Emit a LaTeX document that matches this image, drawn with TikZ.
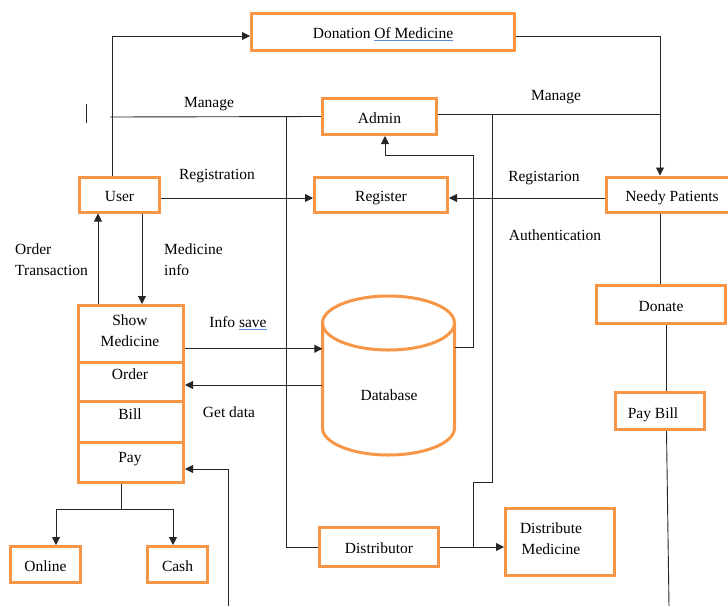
\documentclass[tikz,border=0pt]{standalone}
\usepackage{fontspec}
\setmainfont{Liberation Serif}
\usetikzlibrary{arrows.meta}
\definecolor{boxorange}{HTML}{F79646}
\definecolor{ulblue}{HTML}{5B8BD6}
\newcommand\spellul[1]{{\color{ulblue}\underline{\color{black}#1}}}
\begin{document}
\begin{tikzpicture}[x=1pt,y=-1pt,
  box/.style={draw=boxorange,line width=3pt,inner sep=0pt,font=\fontsize{15.5}{21}\selectfont,align=center,text height=13pt,text depth=0pt},
  txt/.style={inner sep=0pt,font=\fontsize{15.5}{21}\selectfont,text height=12.5pt,text depth=0pt},
  mtxt/.style={inner sep=0pt,font=\fontsize{15.5}{21}\selectfont},
  ln/.style={draw=black!85,line width=0.9pt},
  arr/.style={ln,-{Triangle[length=8pt,width=8pt]}}]
\useasboundingbox (0,0) rectangle (728,606);

% boxes
\node[box,minimum width=263pt,minimum height=37pt] (don) at (383,32) {Donation \spellul{Of Medicine}};
\node[box,minimum width=114pt,minimum height=36pt] (admin) at (379.5,116.5) {Admin};
\node[box,minimum width=133pt,minimum height=35pt] (reg) at (381,194.5) {Register};
\node[box,minimum width=80pt,minimum height=35pt] (user) at (119.5,194.5) {User};
\node[box,minimum width=131pt,minimum height=35pt] (needy) at (672,194.5) {Needy Patients};
\node[box,minimum width=129pt,minimum height=38pt] (donate) at (661,304.5) {Donate};
\node[box,minimum width=89pt,minimum height=37pt] (paybill) at (660,411) {};
\node[txt] (paybillt) at (653,412) {Pay Bill};

\node[box,minimum width=105pt,minimum height=56.5pt] (sm) at (131,333.75) {};
\node[box,minimum width=105pt,minimum height=39.5pt] (order) at (131,381.75) {};
\node[box,minimum width=105pt,minimum height=41pt] (bill) at (131,422) {};
\node[box,minimum width=105pt,minimum height=39.5pt] (pay) at (131,462.25) {};
\node[mtxt,align=center] (smt) at (130,331) {Show\\Medicine};
\node[txt] (ordert) at (130,373.5) {Order};
\node[txt] (billt) at (130,413.5) {Bill};
\node[txt] (payt) at (130,456.5) {Pay};

\node[box,minimum width=70pt,minimum height=36pt] (online) at (45.5,564.5) {Online};
\node[box,minimum width=60pt,minimum height=36pt] (cash) at (177.5,564.5) {Cash};
\node[box,minimum width=119pt,minimum height=39pt] (distr) at (379,547) {Distributor};
\node[box,minimum width=109pt,minimum height=67pt] (dm) at (560,542) {};
\node[mtxt,align=center] (dmt) at (551,539) {Distribute\\Medicine};

% database cylinder
\node[inner sep=0pt,minimum width=132pt,minimum height=160pt] (db) at (388.5,375) {};
\draw[boxorange,line width=3pt] (388.5,323) ellipse [x radius=66pt,y radius=27pt];
\draw[boxorange,line width=3pt] (322.5,323) -- (322.5,428)
  arc[start angle=180,end angle=360,x radius=66pt,y radius=27pt] -- (454.5,323);
\node[txt] (dbt) at (389,394) {Database};

% labels
\node[txt] (l1) at (209,101) {Manage};
\node[txt] (l2) at (556,94) {Manage};
\node[txt] (l3) at (217,173) {Registration};
\node[txt] (l4) at (544,175) {Registarion};
\node[txt] (l5) at (555,234) {Authentication};
\node[mtxt,align=left,anchor=west] (l6) at (15,260) {Order\\Transaction};
\node[mtxt,align=left,anchor=west] (l7) at (164,260) {Medicine\\info};
\node[txt] (l8) at (238,321) {Info \spellul{save}};
\node[txt] (l9) at (229,411) {Get data};

% coordinates
\coordinate (nd) at ([xshift=-12pt]needy.north);
\coordinate (mL) at (110,117);
\coordinate (v1) at (286,117);
\coordinate (v2) at (492,114);
\coordinate (j1) at (473,482);
\coordinate (j2) at (473,155);
\coordinate (pbEnd) at (669,606);
\coordinate (pyEnd) at (228,606);
\coordinate (pj) at (121,509);
\coordinate (tk1) at (86,104);
\coordinate (tk2) at (86,123);

% connectors
\draw[arr] ([xshift=-7.5pt]user.north) |- ([yshift=-4pt]don.west);
\draw[arr] ([yshift=-4pt]don.east) -| (nd);
\draw[ln] (admin.west) -- (mL);
\draw[ln] (tk1) -- (tk2);
\draw[ln] (v1) |- (distr.west);
\draw[ln] ([yshift=2.5pt]admin.east) -- ([yshift=2.5pt]admin.east -| nd);
\draw[ln] (v2) |- (j1) -- (j1 |- distr.east);
\draw[arr] (distr.east) -- (distr.east -| dm.west);
\draw[arr] ([yshift=-3.5pt]user.east) -- ([yshift=-3.5pt]reg.west);
\draw[arr] ([yshift=-3.5pt]needy.west) -- ([yshift=-3.5pt]reg.east);
\draw[arr] ([yshift=28pt]db.east) -| (j2) -| ([xshift=5.5pt]admin.south);
\draw[ln] (needy.south -| nd) -- (donate.north -| nd);
\draw[ln] ([xshift=5pt]donate.south) -- ([xshift=6pt]paybill.north);
\draw[ln] ([xshift=6.5pt]paybill.south) -- (pbEnd);
\draw[arr] ([xshift=-33pt]sm.north) -- ([xshift=-33pt]sm.north |- user.south);
\draw[arr] ([xshift=22.5pt]user.south) -- ([xshift=22.5pt]user.south |- sm.north);
\draw[arr] ([yshift=-15pt]sm.east) -- ([yshift=-15pt]sm.east -| db.west);
\draw[arr] ([yshift=-3.25pt]order.east -| db.west) -- ([yshift=-3.25pt]order.east);
\draw[arr] (pyEnd) |- ([yshift=-6.75pt]pay.east);
\draw[ln] (pay.south -| pj) -- (pj);
\draw[arr] (pj) -| ([xshift=10.5pt]online.north);
\draw[arr] (pj) -| ([xshift=-4.5pt]cash.north);
\end{tikzpicture}
\end{document}
